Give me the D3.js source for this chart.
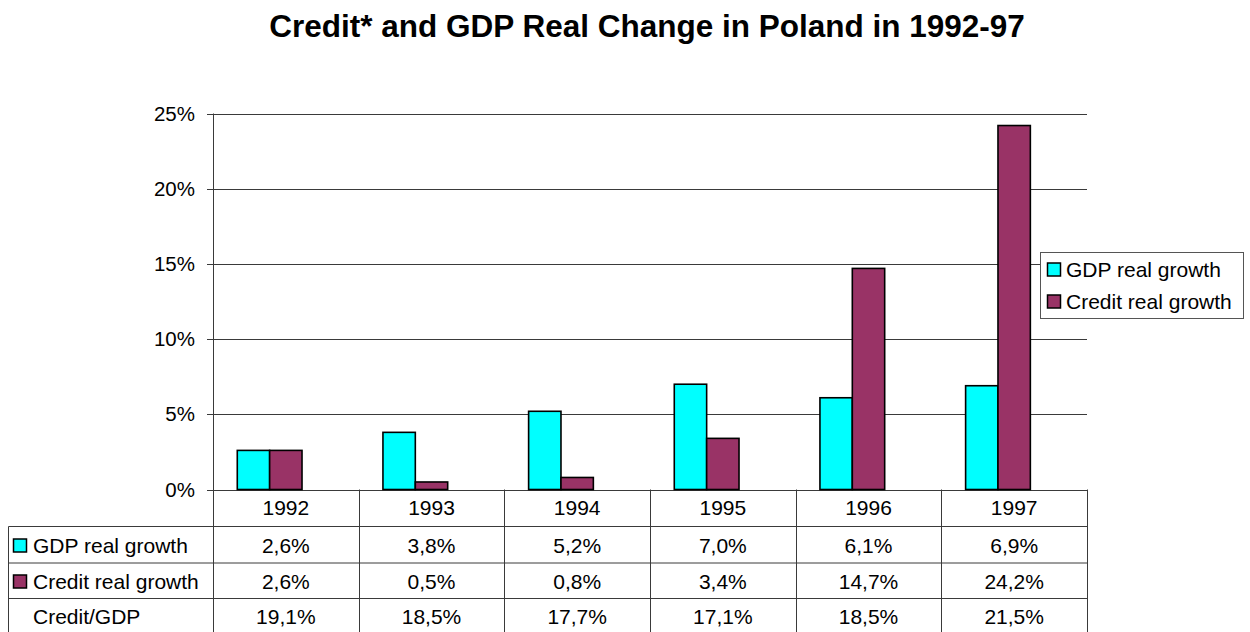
<!DOCTYPE html>
<html>
<head>
<meta charset="utf-8">
<script src="https://cdn.jsdelivr.net/npm/d3@7"></script>
<style>
  html, body { margin: 0; padding: 0; background: #fff; }
  svg { display: block; font-family: "Liberation Sans", Arial, sans-serif; }
</style>
</head>
<body>
<svg id="chart" width="1250" height="632"></svg>
<script>
const title = "Credit* and GDP Real Change in Poland in 1992-97";
const years = ["1992", "1993", "1994", "1995", "1996", "1997"];
const gdpGrowth = [2.6, 3.8, 5.2, 7.0, 6.1, 6.9];
const creditGrowth = [2.6, 0.5, 0.8, 3.4, 14.7, 24.2];
const creditToGdp = [19.1, 18.5, 17.7, 17.1, 18.5, 21.5];
const yTicks = [0, 5, 10, 15, 20, 25];
const seriesNames = ["GDP real growth", "Credit real growth", "Credit/GDP"];
const seriesColors = ["#00FFFF", "#993366", null];

(function () {
const fmt = v => v.toFixed(1).replace(".", ",") + "%";

const svg = d3.select("#chart");
const pLeft = 213, pRight = 1087, pTop = 113.5, pBottom = 489.5;
const lineCol = "#3a3a3a";

const x = d3.scaleBand().domain(years).range([pLeft, pRight]).paddingInner(0).paddingOuter(0);
const inner = d3.scaleBand().domain([0, 1, 2]).range([0, x.bandwidth()]).paddingInner(0).paddingOuter(0.75);
const y = d3.scaleLinear().domain([0, 25]).range([pBottom, pTop]);

// title
svg.append("text").attr("x", 647).attr("y", 36.5).attr("text-anchor", "middle")
  .attr("font-size", 31.5).attr("font-weight", "bold").attr("fill", "#000").text(title);

// gridlines + ticks
svg.append("g").selectAll("line").data(yTicks).join("line")
  .attr("x1", 207).attr("x2", pRight)
  .attr("y1", d => Math.round(y(d)) + 0.5).attr("y2", d => Math.round(y(d)) + 0.5)
  .attr("stroke", lineCol).attr("stroke-width", 1);
svg.append("g").selectAll("text").data(yTicks).join("text")
  .attr("x", 195).attr("y", d => y(d)).attr("dy", "0.35em").attr("text-anchor", "end")
  .attr("font-size", 20.5).attr("fill", "#000").text(d => d + "%");

// bars
const barData = [];
years.forEach((yr, i) => {
  barData.push({ yr, s: 0, v: gdpGrowth[i] });
  barData.push({ yr, s: 1, v: creditGrowth[i] });
});
svg.append("g").selectAll("rect").data(barData).join("rect")
  .attr("x", d => x(d.yr) + inner(d.s))
  .attr("width", inner.bandwidth())
  .attr("y", d => y(d.v))
  .attr("height", d => y(0) - y(d.v))
  .attr("fill", d => seriesColors[d.s])
  .attr("stroke", "#000").attr("stroke-width", 1.6);

// table
const rowEdges = [pBottom, 526.5, 563, 598.5, 640];
const tbl = svg.append("g").attr("stroke", lineCol).attr("stroke-width", 1);
tbl.append("line").attr("x1", pLeft + 0.5).attr("x2", pLeft + 0.5).attr("y1", pTop).attr("y2", 640);
years.forEach(yr => {
  const xe = Math.round(x(yr) + x.bandwidth()) + 0.5;
  tbl.append("line").attr("x1", xe).attr("x2", xe).attr("y1", pBottom).attr("y2", 640);
});
[1, 2, 3].forEach(r => {
  tbl.append("line").attr("x1", 8.5).attr("x2", pRight).attr("y1", rowEdges[r]).attr("y2", rowEdges[r]);
});
tbl.append("line").attr("x1", 8.5).attr("x2", 8.5).attr("y1", rowEdges[1]).attr("y2", 640);

const baselines = [515, 553, 589, 624];
const tg = svg.append("g").attr("font-size", 21).attr("fill", "#000").attr("text-anchor", "middle");
years.forEach((yr, i) => {
  const cx = x(yr) + x.bandwidth() / 2;
  tg.append("text").attr("x", cx).attr("y", baselines[0]).text(yr);
  tg.append("text").attr("x", cx).attr("y", baselines[1]).text(fmt(gdpGrowth[i]));
  tg.append("text").attr("x", cx).attr("y", baselines[2]).text(fmt(creditGrowth[i]));
  tg.append("text").attr("x", cx).attr("y", baselines[3]).text(fmt(creditToGdp[i]));
});
seriesNames.forEach((name, i) => {
  const bl = baselines[i + 1];
  if (seriesColors[i]) {
    svg.append("rect").attr("x", 13.5).attr("y", bl - 14).attr("width", 13).attr("height", 13)
      .attr("fill", seriesColors[i]).attr("stroke", "#000").attr("stroke-width", 1.5);
  }
  svg.append("text").attr("x", 33).attr("y", bl).attr("font-size", 21).attr("fill", "#000").text(name);
});

// legend
const lg = svg.append("g");
lg.append("rect").attr("x", 1040.5).attr("y", 252.5).attr("width", 203).attr("height", 66)
  .attr("fill", "#fff").attr("stroke", "#555").attr("stroke-width", 1);
[0, 1].forEach(i => {
  const bl = 277 + i * 32;
  lg.append("rect").attr("x", 1047.5).attr("y", bl - 14).attr("width", 13).attr("height", 13)
    .attr("fill", seriesColors[i]).attr("stroke", "#000").attr("stroke-width", 1.5);
  lg.append("text").attr("x", 1066).attr("y", bl).attr("font-size", 21).attr("fill", "#000").text(seriesNames[i]);
});
})();
</script>
</body>
</html>
